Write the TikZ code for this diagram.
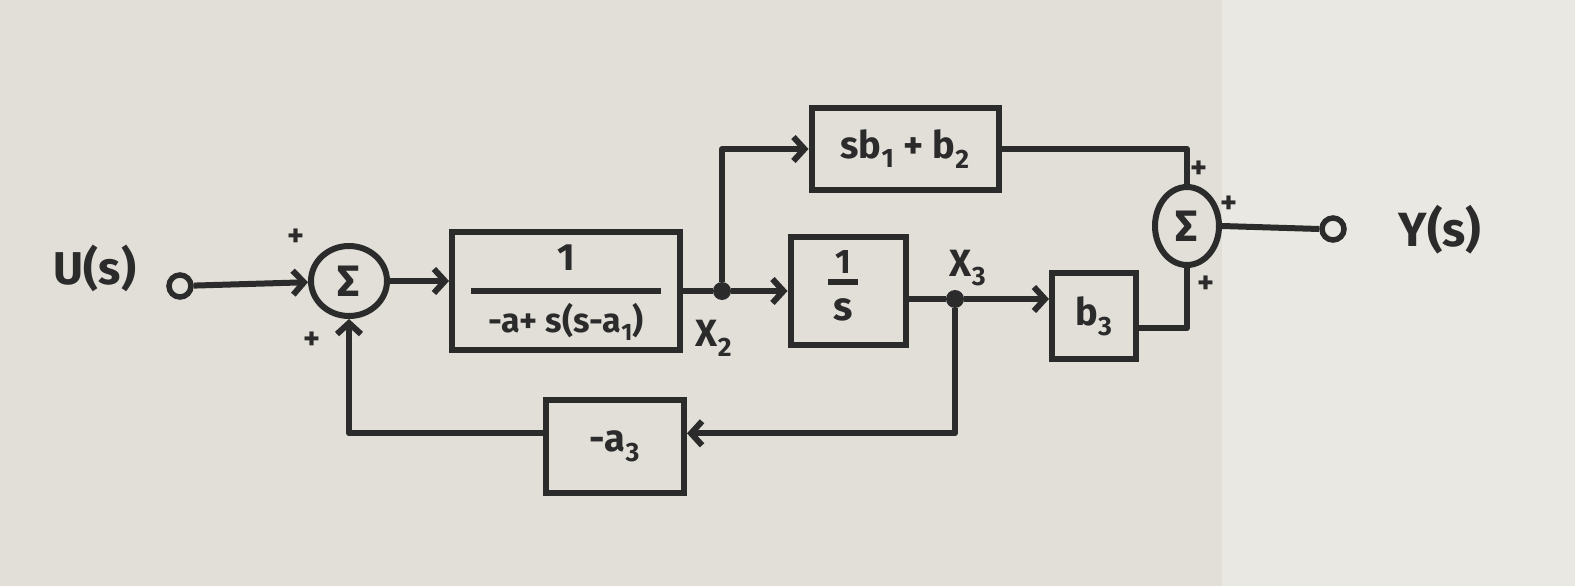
\documentclass[tikz,border=0pt]{standalone}
\usepackage{fontspec}
\setmainfont{Fira Sans}
\usetikzlibrary{arrows.meta,shapes.geometric,calc}
\definecolor{paper}{HTML}{E2DFD8}
\definecolor{paperR}{HTML}{EAE8E3}
\definecolor{ink}{HTML}{2B2B2B}
\begin{document}
\begin{tikzpicture}[x=1pt,y=-1pt,
  wire/.style={draw=ink, line width=6pt, line join=round},
  arr/.style={wire, -{Straight Barb[length=11pt,width=24pt]}},
  blockbox/.style={draw=ink, line width=6pt, rectangle, inner sep=0pt, text=ink, font=\bfseries\fontsize{38}{40}\selectfont},
  sumnode/.style={draw=ink, line width=6pt, ellipse, inner sep=0pt, text=ink, font=\bfseries\fontsize{44}{44}\selectfont},
  txt/.style={text=ink, inner sep=0pt, font=\bfseries\fontsize{#1}{#1}\selectfont},
  txt/.default=38,
  dot/.style={circle, fill=ink, inner sep=0pt, minimum size=18pt},
  port/.style={circle, draw=ink, line width=5.5pt, fill=paper, inner sep=0pt, minimum size=22pt},
  plus/.style={text=ink, inner sep=0pt, font=\bfseries\fontsize{32}{32}\selectfont}]
\useasboundingbox (0,0) rectangle (1575,586);
\fill[paper] (0,0) rectangle (1222,586);
\fill[paperR] (1222,0) rectangle (1575,586);

% input / output
\node[txt=46] (U) at (95,268) {U(s)};
\node[port] (in) at (180,286) {};
\node[txt=48] (Y) at (1440,230) {Y(s)};

% summing junctions
\node[sumnode, minimum width=76pt, minimum height=70pt] (s1) at (349,281) {Σ};
\node[sumnode, minimum width=64pt, minimum height=78pt] (s2) at (1187,226) {Σ};
\node[port, fill=paperR] (out) at (1333,229) {};

% blocks
\node[blockbox, minimum width=228pt, minimum height=118pt] (b1) at (566,291) {};
\node[txt=38] (b1n) at (566,258) {1};
\node[txt=34] (b1d) at (566,322) {-a+ s(s-a\textsubscript{1})};
\draw[wire] ($(b1.west)+(22,0)$) -- ($(b1.east)+(-22,0)$);

\node[blockbox, minimum width=187pt, minimum height=82pt] (b2) at (905,149) {sb\textsubscript{1} + b\textsubscript{2}};

\node[blockbox, minimum width=115pt, minimum height=108pt] (b3) at (848,291) {};
\node[txt=34] (b3n) at (843,262) {1};
\node[txt=40] (b3d) at (843,310) {s};
\draw[wire] ($(b3n.south)+(-15,8)$) -- ($(b3n.south)+(15,8)$);

\node[blockbox, minimum width=84pt, minimum height=86pt] (b4) at (1094,316) {b\textsubscript{3}};
\node[blockbox, minimum width=138pt, minimum height=93pt] (b5) at (615,446) {-a\textsubscript{3}};

% branch points
\node[dot] (j2) at (722,291) {};
\node[txt] (x2) at (714,338) {X\textsubscript{2}};
\node[dot] (j3) at (955,299) {};
\node[txt] (x3) at (968,268) {X\textsubscript{3}};

% signs
\node[plus] (p1) at (296,238) {+};
\node[plus] (p2) at (312,341) {+};
\node[plus] (p3) at (1199,170) {+};
\node[plus] (p4) at (1229,205) {+};
\node[plus] (p5) at (1206,285) {+};

% connectors
\draw[arr] (in) -- (s1);
\draw[arr] (s1.east) -- (s1.east -| b1.west);
\draw[wire] (b1.east) -- (j2);
\draw[arr] (j2) -- (b3.west);
\draw[arr] (j2) |- (b2.west);
\draw[wire] (b2.east) -| (s2.north);
\draw[wire] (b3.east |- j3) -- (j3);
\draw[arr] (j3) -- (j3 -| b4.west);
\draw[wire] (b4.-15) -| (s2.south);
\draw[wire] (s2.east) -- (out.west);
\draw[arr] (j3) |- (b5.10);
\draw[arr] (b5.170) -| (s1.south);
\end{tikzpicture}
\end{document}
